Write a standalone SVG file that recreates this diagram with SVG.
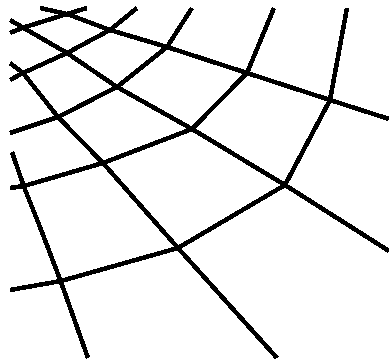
<svg xmlns="http://www.w3.org/2000/svg" width="389" height="360" viewBox="0 0 389 360">
<style>
.l{fill:none;stroke:#000;stroke-width:4.6;stroke-linejoin:round;stroke-linecap:butt;shape-rendering:crispEdges}
</style>
<rect width="389" height="360" fill="#fff"/>
<g id="grid">
<polyline class="l" points="40,8 67,14 110,30 167,47 247,73 330,100 389,119"/>
<polyline class="l" points="10,20 22,27 67,53 117,87 192,129 285,185 389,251"/>
<polyline class="l" points="10,63 23,73 58,117 103,163 178,248 277,358"/>
<polyline class="l" points="12,152 24,187 40,227 61,282 88,358"/>
<polyline class="l" points="10,33 22,28 67,14 87,8"/>
<polyline class="l" points="10,80 23,73 67,53 110,30 137,8"/>
<polyline class="l" points="10,133 58,117 117,87 167,47 192,8"/>
<polyline class="l" points="10,188 24,186 103,163 192,129 247,73 274,8"/>
<polyline class="l" points="10,290 61,281 178,248 285,185 330,100 347,8"/>
</g>
</svg>
